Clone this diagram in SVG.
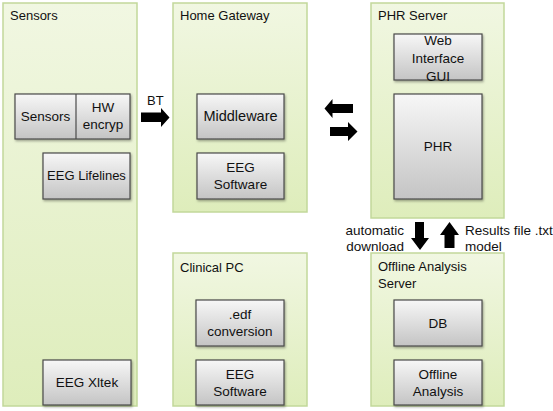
<svg xmlns="http://www.w3.org/2000/svg" width="553" height="411" viewBox="0 0 553 411">
<defs>
<linearGradient id="gc" x1="0" y1="0" x2="0" y2="1"><stop offset="0" stop-color="#f1f7e2"/><stop offset="1" stop-color="#deedbb"/></linearGradient>
<linearGradient id="gb" x1="0" y1="0" x2="0" y2="1"><stop offset="0" stop-color="#f7f7f7"/><stop offset="1" stop-color="#c4c4c4"/></linearGradient>
<filter id="sh" x="-10%" y="-10%" width="125%" height="130%"><feDropShadow dx="1" dy="1.5" stdDeviation="1" flood-color="#000" flood-opacity="0.35"/></filter>
<style>
.c{fill:url(#gc);stroke:#c2d89a;stroke-width:1.5}
.b{fill:url(#gb);stroke:#4a4a4a;stroke-width:1.2;filter:url(#sh)}
text{font-family:"Liberation Sans",Arial,sans-serif;font-size:13px;fill:#111}
.m{text-anchor:middle;font-size:13.5px}
.l{font-size:13.5px}
.a{fill:#000}
</style>
</defs>
<g id="sensors">
<rect class="c" x="3" y="3" width="134" height="403"/>
<text x="10" y="20">Sensors</text>
<rect class="b" x="15" y="94" width="115" height="45"/>
<line x1="76" y1="94" x2="76" y2="139" stroke="#4a4a4a" stroke-width="1.2"/>
<text class="m" x="45.5" y="121">Sensors</text>
<text class="m" x="103" y="112">HW</text>
<text class="m" x="103" y="129">encryp</text>
<rect class="b" x="43" y="153" width="87" height="46"/>
<text class="m" x="86.5" y="180" style="font-size:13px">EEG Lifelines</text>
<rect class="b" x="43" y="360" width="88" height="45"/>
<text class="m" x="87" y="387">EEG Xltek</text>
</g>
<g id="home-gateway">
<rect class="c" x="173" y="3" width="134" height="209"/>
<text x="180" y="20">Home Gateway</text>
<rect class="b" x="197" y="94" width="87" height="45"/>
<text class="m" x="240.5" y="121" style="font-size:14.5px">Middleware</text>
<rect class="b" x="197" y="153" width="87" height="46"/>
<text class="m" x="240.5" y="172">EEG</text>
<text class="m" x="240.5" y="189">Software</text>
</g>
<g id="clinical-pc">
<rect class="c" x="173" y="253" width="134" height="153"/>
<text x="180" y="272">Clinical PC</text>
<rect class="b" x="196" y="300" width="88" height="46"/>
<text class="m" x="240" y="319">.edf</text>
<text class="m" x="240" y="336">conversion</text>
<rect class="b" x="196" y="360" width="88" height="45"/>
<text class="m" x="240" y="379">EEG</text>
<text class="m" x="240" y="396">Software</text>
</g>
<g id="phr-server">
<rect class="c" x="371" y="3" width="133" height="215"/>
<text x="378" y="20">PHR Server</text>
<rect class="b" x="394" y="34" width="88" height="46"/>
<text class="m" x="438" y="45">Web</text>
<text class="m" x="438" y="63">Interface</text>
<text class="m" x="438" y="81">GUI</text>
<rect class="b" x="394" y="94" width="88" height="105"/>
<text class="m" x="438" y="151">PHR</text>
</g>
<g id="offline-analysis-server">
<rect class="c" x="371" y="253" width="133" height="153"/>
<text x="378" y="271">Offline Analysis</text>
<text x="378" y="288">Server</text>
<rect class="b" x="394" y="300" width="88" height="46"/>
<text class="m" x="438" y="328">DB</text>
<rect class="b" x="394" y="360" width="88" height="45"/>
<text class="m" x="438" y="379">Offline</text>
<text class="m" x="438" y="396">Analysis</text>
</g>
<g id="connectors">
<polygon class="a" points="141,112.5 161,112.5 161,108 169.5,117.5 161,127 161,122 141,122"/>
<text x="147" y="105">BT</text>
<polygon class="a" points="324.5,108.5 332.5,99 332.5,104 353,104 353,113 332.5,113 332.5,118"/>
<polygon class="a" points="357.5,131.5 348,122 348,127 330,127 330,136 348,136 348,141"/>
<polygon class="a" points="415,222 424,222 424,238 429,238 420,250 411,238 415,238"/>
<polygon class="a" points="449.5,222 459,235 454.5,235 454.5,248 444.5,248 444.5,235 440,235"/>
<text class="l" x="404" y="235" text-anchor="end">automatic</text>
<text class="l" x="404" y="251" text-anchor="end">download</text>
<text class="l" x="465" y="235">Results file .txt</text>
<text class="l" x="465" y="251">model</text>
</g>
</svg>
